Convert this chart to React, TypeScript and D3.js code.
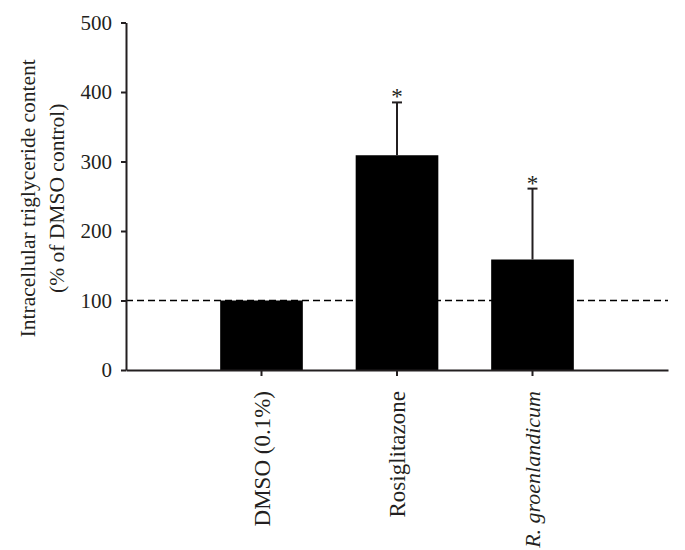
import React, { useEffect, useRef } from 'react';
import * as d3 from 'd3';

// values
const groups = ['DMSO (0.1%)', 'Rosiglitazone', 'R. groenlandicum'];
const italicGroups = ['R. groenlandicum'];
const means = [100, 309, 159];
const errors = [0, 76, 102];
const significant = [false, true, true];
const yTicks = [0, 100, 200, 300, 400, 500];
const refLevel = 100;
const yTitle = ['Intracellular triglyceride content', '(% of DMSO control)'];

const FONT = '"Liberation Serif", "DejaVu Serif", serif';
const INK = '#231f20';

export default function App() {
  const svgRef = useRef<SVGSVGElement>(null);
  const width = 685, height = 550;
  const margin = { top: 22.5, right: 17, bottom: 180, left: 126 };
  const innerBottom = height - margin.bottom;

  useEffect(() => {
    const svg = d3.select(svgRef.current);
    svg.selectAll('*').remove();

    const data = groups.map((g, i) => ({ g, mean: means[i], err: errors[i], sig: significant[i] }));

    const x = d3.scaleBand()
      .domain(groups)
      .range([margin.left, width - margin.right])
      .paddingInner(0.39)
      .paddingOuter(0.695);

    const y = d3.scaleLinear()
      .domain([0, 500])
      .range([innerBottom, margin.top]);

    // bars
    svg.append('g')
      .selectAll('rect')
      .data(data)
      .enter().append('rect')
      .attr('x', d => x(d.g))
      .attr('y', d => y(d.mean))
      .attr('width', x.bandwidth())
      .attr('height', d => y(0) - y(d.mean))
      .attr('fill', '#000');

    // error bars (upper only)
    const eb = svg.append('g').attr('stroke', INK).attr('stroke-width', 2);
    data.filter(d => d.err > 0).forEach(d => {
      const cx = x(d.g) + x.bandwidth() / 2;
      eb.append('line')
        .attr('x1', cx).attr('x2', cx)
        .attr('y1', y(d.mean)).attr('y2', y(d.mean + d.err));
      eb.append('line')
        .attr('x1', cx - 5).attr('x2', cx + 5)
        .attr('y1', y(d.mean + d.err)).attr('y2', y(d.mean + d.err));
    });

    // significance stars
    svg.append('g')
      .selectAll('text')
      .data(data.filter(d => d.sig))
      .enter().append('text')
      .attr('x', d => x(d.g) + x.bandwidth() / 2)
      .attr('y', d => y(d.mean + d.err) + 2)
      .attr('text-anchor', 'middle')
      .attr('font-family', FONT)
      .attr('font-size', 23)
      .attr('fill', INK)
      .text('*');

    // dashed reference line at 100%
    svg.append('line')
      .attr('x1', margin.left).attr('x2', width - margin.right)
      .attr('y1', y(refLevel)).attr('y2', y(refLevel))
      .attr('stroke', '#000')
      .attr('stroke-width', 1.3)
      .attr('stroke-dasharray', '7,4');

    // y axis
    const yAxis = svg.append('g')
      .attr('transform', `translate(${margin.left},0)`)
      .call(d3.axisLeft(y).tickValues(yTicks).tickSize(5).tickSizeOuter(0).tickPadding(9));
    yAxis.select('.domain').attr('stroke', INK).attr('stroke-width', 2);
    yAxis.selectAll('.tick line').attr('stroke', INK).attr('stroke-width', 2);
    yAxis.selectAll('.tick text')
      .attr('font-family', FONT)
      .attr('font-size', 21)
      .attr('fill', INK);

    // x axis, labels rotated
    const xAxis = svg.append('g')
      .attr('transform', `translate(0,${innerBottom})`)
      .call(d3.axisBottom(x).tickSize(6).tickSizeOuter(0));
    xAxis.select('.domain').attr('stroke', INK).attr('stroke-width', 2);
    xAxis.selectAll('.tick line').attr('stroke', INK).attr('stroke-width', 2);
    xAxis.selectAll('.tick text')
      .attr('font-family', FONT)
      .attr('font-size', d => (italicGroups.includes(d as string) ? 22 : 23))
      .attr('fill', INK)
      .attr('text-anchor', 'end')
      .attr('transform', 'rotate(-90)')
      .attr('x', -21)
      .attr('y', 0)
      .attr('dy', '0.35em')
      .attr('font-style', d => (italicGroups.includes(d as string) ? 'italic' : 'normal'));

    // y title
    const title = svg.append('text')
      .attr('transform', `translate(27,${(margin.top + innerBottom) / 2 + 2}) rotate(-90)`)
      .attr('text-anchor', 'middle')
      .attr('font-family', FONT)
      .attr('font-size', 21.5)
      .attr('fill', INK);
    title.selectAll('tspan')
      .data(yTitle)
      .enter().append('tspan')
      .attr('x', 0)
      .attr('dy', (d, i) => (i === 0 ? '0.35em' : '1.35em'))
      .text(d => d);
  }, []);

  return (
    <svg
      ref={svgRef}
      width={width}
      height={height}
      style={{ position: 'absolute', left: 0, top: 0, background: '#fff' }}
    />
  );
}
